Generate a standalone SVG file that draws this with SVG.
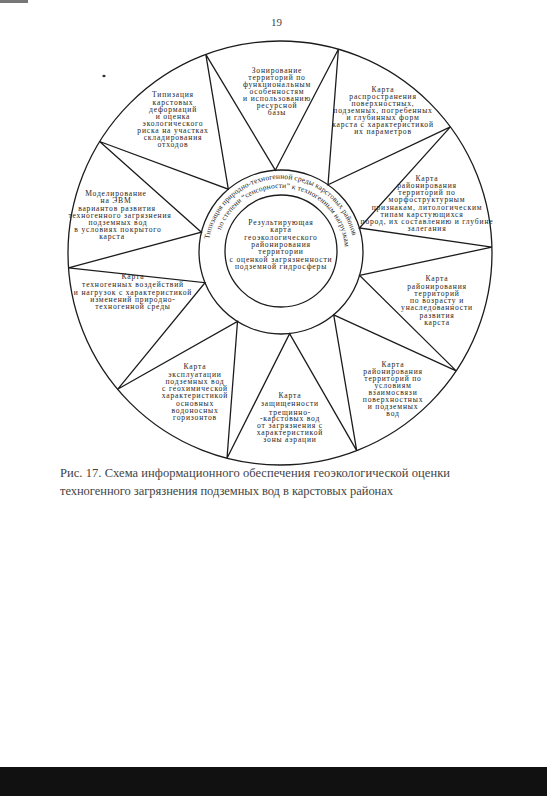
<svg xmlns="http://www.w3.org/2000/svg" width="547" height="796" viewBox="0 0 547 796">
<defs>
<style>
.ln{fill:none;stroke:#1c1c1c;stroke-width:1.3;stroke-linejoin:miter}
.t{font-family:"Liberation Serif","Times New Roman",serif;font-size:7.6px;fill:#262626;text-anchor:middle;letter-spacing:0.8px}
.arc{font-family:"Liberation Serif","Times New Roman",serif;font-size:7.5px;fill:#262626;letter-spacing:0.12px}
.cap{font-family:"Liberation Serif","Times New Roman",serif;font-size:12.5px;fill:#444}
</style>
<path id="arc1" d="M209.1,239.3 A73,73 0 0 1 353.6,259.6"/>
<path id="arc2" d="M220.9,230.1 A64,64 0 0 1 345.0,254.2"/>
</defs>
<rect x="0" y="0" width="547" height="796" fill="#fff"/>
<rect x="0" y="0" width="28" height="3" fill="#777"/>
<rect x="0" y="767" width="547" height="29" fill="#111"/>
<text x="271" y="26" class="cap" style="font-size:11px" fill="#333">19</text>
<ellipse cx="104" cy="76" rx="1.6" ry="1.3" fill="#333"/>

<g id="connectors">
<circle class="ln" cx="280" cy="253" r="212"/>
<circle class="ln" cx="281" cy="252" r="82"/>
<circle class="ln" cx="281" cy="251" r="56"/>
<path class="ln" d="M205.8,54.4 L275.3,170.2 L338.4,49.2 L328.0,184.8 L450.4,126.9 L359.4,228.0 L491.9,247.1 L359.6,275.4 L456.2,370.9 L333.7,314.8 L356.7,450.6 L289.6,333.6 L227.0,458.2 L237.5,321.5 L117.6,389.3 L205.0,282.7 L68.5,267.8 L201.4,232.2 L99.6,141.5 L228.3,189.2 Z"/>
</g>

<g id="n-zonirovanie">
<text class="t" x="277" y="73">Зонирование</text>
<text class="t" x="277" y="80">территорий по</text>
<text class="t" x="277" y="87">функциональным</text>
<text class="t" x="277" y="94">особенностям</text>
<text class="t" x="277" y="101">и использованию</text>
<text class="t" x="277" y="108">ресурсной</text>
<text class="t" x="277" y="115">базы</text>
</g>

<g id="n-rasprostranenie">
<text class="t" x="383" y="92">Карта</text>
<text class="t" x="383" y="99">распространения</text>
<text class="t" x="383" y="106">поверхностных,</text>
<text class="t" x="383" y="113">подземных, погребенных</text>
<text class="t" x="383" y="120">и глубинных форм</text>
<text class="t" x="383" y="127">карста с характеристикой</text>
<text class="t" x="383" y="134">их параметров</text>
</g>

<g id="n-tipizatsiya">
<text class="t" x="173" y="97">Типизация</text>
<text class="t" x="173" y="104.5">карстовых</text>
<text class="t" x="173" y="112">деформаций</text>
<text class="t" x="173" y="119">и оценка</text>
<text class="t" x="173" y="126">экологического</text>
<text class="t" x="173" y="133">риска на участках</text>
<text class="t" x="173" y="140">складирования</text>
<text class="t" x="173" y="147">отходов</text>
</g>

<g id="n-morfostruktura">
<text class="t" x="427" y="181">Карта</text>
<text class="t" x="427" y="188">районирования</text>
<text class="t" x="427" y="195">территорий по</text>
<text class="t" x="427" y="202">морфоструктурным</text>
<text class="t" x="427" y="209.5">признакам, литологическим</text>
<text class="t" x="422" y="217">типам карстующихся</text>
<text class="t" x="427" y="224">пород, их составлению и глубине</text>
<text class="t" x="427" y="231">залегания</text>
</g>

<g id="n-modelirovanie">
<text class="t" x="116" y="196">Моделирование</text>
<text class="t" x="116" y="203">на  ЭВМ</text>
<text class="t" x="117" y="211">вариантов развития</text>
<text class="t" x="120" y="218">техногенного загрязнения</text>
<text class="t" x="118" y="225">подземных вод</text>
<text class="t" x="118" y="232">в условиях покрытого</text>
<text class="t" x="112" y="239">карста</text>
</g>

<g id="n-vozrast">
<text class="t" x="437" y="281">Карта</text>
<text class="t" x="437" y="288.5">районирования</text>
<text class="t" x="437" y="296">территорий</text>
<text class="t" x="437" y="303">по возрасту и</text>
<text class="t" x="437" y="310">унаследованности</text>
<text class="t" x="437" y="318">развития</text>
<text class="t" x="437" y="325">карста</text>
</g>

<g id="n-tekhnogennye">
<text class="t" x="133" y="279">Карта</text>
<text class="t" x="133" y="287">техногенных воздействий</text>
<text class="t" x="133" y="294.5">и нагрузок с характеристикой</text>
<text class="t" x="133" y="301.5">изменений природно-</text>
<text class="t" x="133" y="308.5">техногенной среды</text>
</g>

<g id="n-vzaimosvyaz">
<text class="t" x="393" y="367">Карта</text>
<text class="t" x="393" y="374">районирования</text>
<text class="t" x="393" y="381">территорий по</text>
<text class="t" x="393" y="387.5">условиям</text>
<text class="t" x="393" y="395">взаимосвязи</text>
<text class="t" x="393" y="401.5">поверхностных</text>
<text class="t" x="393" y="408.5">и подземных</text>
<text class="t" x="393" y="416">вод</text>
</g>

<g id="n-ekspluatatsiya">
<text class="t" x="195" y="369">Карта</text>
<text class="t" x="195" y="376.5">эксплуатации</text>
<text class="t" x="195" y="384">подземных вод</text>
<text class="t" x="195" y="391">с геохимической</text>
<text class="t" x="195" y="398">характеристикой</text>
<text class="t" x="195" y="406">основных</text>
<text class="t" x="195" y="413">водоносных</text>
<text class="t" x="195" y="420">горизонтов</text>
</g>

<g id="n-zashchishchennost">
<text class="t" x="290" y="398">Карта</text>
<text class="t" x="290" y="406">защищенности</text>
<text class="t" x="290" y="414.5">трещинно-</text>
<text class="t" x="290" y="421">-карстовых вод</text>
<text class="t" x="290" y="428">от загрязнения с</text>
<text class="t" x="290" y="435">характеристикой</text>
<text class="t" x="290" y="442">зоны аэрации</text>
</g>

<g id="n-ring">
<text class="arc"><textPath href="#arc1">Типизация природно-техногенной среды карстовых районов</textPath></text>
<text class="arc"><textPath href="#arc2">по степени “сенсорности” к техногенным нагрузкам</textPath></text>
</g>

<g id="n-center">
<text class="t" x="281" y="225">Результирующая</text>
<text class="t" x="281" y="232">карта</text>
<text class="t" x="281" y="240">геоэкологического</text>
<text class="t" x="281" y="247">районирования</text>
<text class="t" x="281" y="254">территории</text>
<text class="t" x="281" y="262">с оценкой загрязненности</text>
<text class="t" x="281" y="269">подземной гидросферы</text>
</g>

<g id="caption">
<text class="cap" x="60" y="477" textLength="390" lengthAdjust="spacing">Рис. 17.  Схема информационного обеспечения геоэкологической оценки</text>
<text class="cap" x="60" y="495" textLength="333" lengthAdjust="spacing">техногенного загрязнения подземных вод в карстовых районах</text>
</g>
</svg>
